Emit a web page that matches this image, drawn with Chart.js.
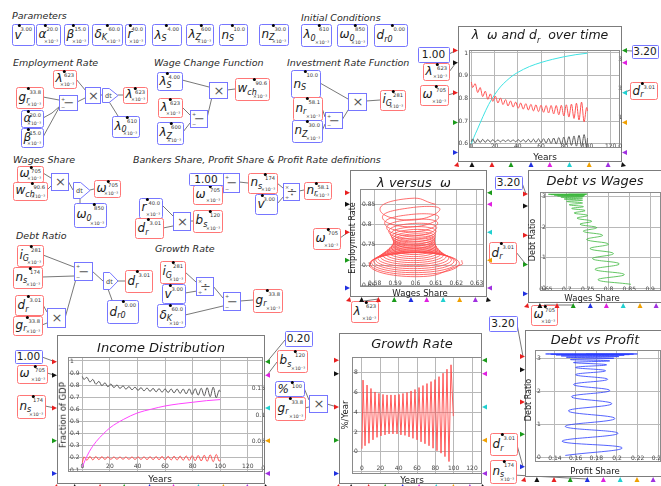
<!DOCTYPE html>
<html><head><meta charset="utf-8">
<script src="https://cdn.jsdelivr.net/npm/chart.js@4.4.1/dist/chart.umd.min.js"></script>
<style>
html,body{margin:0;padding:0;background:#fff;}
body{width:661px;height:486px;overflow:hidden;position:relative;font-family:'DejaVu Sans',sans-serif;}
svg{position:absolute;left:0;top:0;font-family:'DejaVu Sans',sans-serif;}
.panel{position:absolute;border:1px solid #7c7c7c;background:#fff;box-sizing:border-box;}
.lbl{position:absolute;white-space:nowrap;transform:translate(-50%,-50%);line-height:1;color:#1a1a1a;}
.rot{transform:translate(-50%,-50%) rotate(-90deg);}
canvas{position:absolute;}
</style></head><body>
<svg id="base" width="661" height="486"></svg>
<script>
// ================= DATA =================
const turnT = [0,1.1,3.3,5.5,7.6,9.8,12.0,14.2,16.4,18.5,20.7,22.9,25.1,27.3,29.5,31.6,33.8,36.0,38.2,40.4,42.5,44.7,46.9,49.1,51.3,53.5,55.6,57.8,60.0,62.2,64.4,66.5,68.7,70.9,73.1,75.3,77.5,79.6,81.8,84.0,86.2,88.4,90.5,92.7,94.9,97.1,99.3,100];
const omegaV = [0.872,0.848,0.865,0.826,0.848,0.808,0.832,0.796,0.820,0.787,0.810,0.780,0.802,0.773,0.795,0.767,0.789,0.762,0.784,0.757,0.780,0.753,0.777,0.749,0.774,0.745,0.772,0.742,0.770,0.739,0.769,0.736,0.769,0.732,0.769,0.728,0.770,0.723,0.772,0.718,0.775,0.712,0.779,0.705,0.784,0.697,0.760,0.745];
const lambdaV = [0.610,0.622,0.604,0.621,0.606,0.620,0.607,0.619,0.608,0.619,0.609,0.618,0.609,0.618,0.610,0.618,0.610,0.618,0.609,0.619,0.609,0.619,0.608,0.620,0.607,0.621,0.606,0.622,0.605,0.623,0.604,0.624,0.602,0.626,0.600,0.628,0.598,0.630,0.596,0.632,0.593,0.635,0.590,0.638,0.587,0.641,0.585,0.625];
const nsV = [0.160,0.208,0.180,0.212,0.183,0.211,0.185,0.210,0.186,0.209,0.187,0.208,0.187,0.208,0.187,0.208,0.187,0.208,0.186,0.209,0.186,0.209,0.185,0.210,0.185,0.211,0.184,0.212,0.183,0.213,0.182,0.214,0.181,0.215,0.180,0.216,0.178,0.218,0.176,0.220,0.174,0.222,0.171,0.225,0.168,0.228,0.172,0.185];
const drT = [0,2,5,10,15,20,25,30,35,40,50,60,70,80,90,100];
const drV = [0.10,0.30,0.57,1.03,1.45,1.78,2.05,2.25,2.42,2.55,2.75,2.89,3.00,3.09,3.16,3.21];
const bsT = [0,2,5,10,15,20,30,40,50,60,70,80,90,100];
const bsV = [0.003,0.015,0.031,0.050,0.064,0.076,0.092,0.104,0.111,0.117,0.121,0.124,0.127,0.129];
const growthT = [0,1.1,3.3,5.5,7.6,9.8,12.0,14.2,16.4,18.5,20.7,22.9,25.1,27.3,29.5,31.6,33.8,36.0,38.2,40.4,42.5,44.7,46.9,49.1,51.3,53.5,55.6,57.8,60.0,62.2,64.4,66.5,68.7,70.9,73.1,75.3,77.5,79.6,81.8,84.0,86.2,88.4,90.5,92.7,94.9,97.1,99.6];
const growthV = [0.3,7.25,0.6,6.75,0.85,6.4,1.2,6.05,1.45,5.9,1.6,5.8,1.7,5.75,1.8,5.75,1.8,5.75,1.8,5.8,1.7,5.9,1.65,6.0,1.5,6.15,1.35,6.3,1.2,6.5,1.0,6.7,0.8,6.9,0.6,7.1,0.35,7.3,0.1,7.6,-0.15,7.95,-0.5,8.35,-1.0,8.8,3.6];
const lwStart = [0.610,0.850];
const lwEnd = [0.6227,0.712];
const ringL = [.5826,.5838,.5849,.5859,.5869,.5877,.5883,.5888,.5892,.5892,.5888,.5882,.5872,.5862,.5851,.5839,.5828,.5816,.5805,.5795,.5785,.5777,.5774];
const ringR = [.6120,.6114,.6109,.6104,.6101,.6097,.6096,.6094,.6094,.6096,.6099,.6104,.6110,.6119,.6128,.6138,.6150,.6163,.6176,.6189,.6202,.6215,.6226];
const ringT = [.8648,.8417,.8251,.8127,.8028,.7946,.7880,.7822,.7772,.7723,.7673,.7624,.7574,.7524,.7483,.7442,.7409,.7376,.7351,.7334,.7318,.7310,.7310];
const ringB = [.8111,.7946,.7822,.7723,.7640,.7574,.7516,.7467,.7417,.7367,.7310,.7260,.7210,.7161,.7111,.7062,.7012,.6963,.6913,.6863,.6814,.6764,.6715];
const ringCx = [.5973,.5976,.5979,.5982,.5985,.5987,.5990,.5991,.5993,.5994,.5994,.5993,.5991,.5991,.5990,.5989,.5989,.5990,.5991,.5992,.5994,.5996,.6000];
const ringCy = [.8380,.8182,.8037,.7925,.7834,.7760,.7698,.7645,.7595,.7545,.7492,.7442,.7392,.7343,.7297,.7252,.7211,.7170,.7132,.7099,.7066,.7037,.7013];
const dwX = [0.854,0.775,0.838,0.768,0.826,0.762,0.812,0.756,0.800,0.748,0.786,0.740,0.772,0.732,0.760,0.725,0.750,0.718,0.744,0.712,0.740,0.706,0.738,0.700,0.738,0.694,0.738,0.686,0.740,0.678,0.742,0.670,0.744,0.662,0.746,0.656,0.748,0.704];
const dwY = [0.13,0.28,0.45,0.62,0.80,0.97,1.14,1.30,1.45,1.60,1.74,1.87,1.99,2.10,2.20,2.30,2.39,2.47,2.55,2.62,2.68,2.74,2.80,2.85,2.89,2.93,2.96,2.99,3.01,3.03,3.04,3.055,3.065,3.075,3.08,3.085,3.09,3.09];
const dpX = [0.150,0.205,0.147,0.201,0.150,0.198,0.153,0.195,0.156,0.193,0.158,0.191,0.160,0.189,0.160,0.190,0.158,0.193,0.155,0.197,0.151,0.202,0.146,0.207,0.141,0.212,0.136,0.216,0.131,0.219,0.170];
const dpY = [0.05,0.28,0.48,0.72,0.93,1.17,1.40,1.62,1.83,2.02,2.20,2.36,2.50,2.62,2.72,2.80,2.87,2.92,2.96,3.00,3.03,3.05,3.07,3.09,3.10,3.11,3.12,3.125,3.13,3.13,3.13];

// ================= DIAGRAM (layout only) =================
const V = [
[12,24,22,21,'b','v','','3.00',0],[36,24,24,21,'b','α','','20.0',1],[64,24,24,21,'b','β','','15.0',1],
[92,24,30,21,'b','δ','K','60.0',1],[125,24,20,21,'b','r','','40.0',1],[152,24,29,21,'b','λ','S','4.00',0],
[186,24,27,21,'b','λ','Z','600',1],[219,24,28,21,'b','n','S','10.0',0],[259,24,29,21,'b','n','Z','30.0',1],
[301,24,30,22,'b','λ','0','610',1],[337,24,30,22,'b','ω','0','850',1],[374,24,33,22,'b','d','r0','0.00',0],
[16,87,27,21,'r','g','r','33.8',1],[21,110,22,17,'b','α','','20.0',1],[21,128,22,19,'b','β','','15.0',1],
[53,70,23,18,'r','λ','','623',1],[123,87,24,16,'r','λ','','623',1],[112,116,27,21,'b','λ','0','610',1],
[157,72,25,18,'b','λ','S','4.00',0],[158,98,24,19,'r','λ','','623',1],[157,122,26,22,'b','λ','Z','600',1],
[235,78,34,22,'r','w','ch','90.6',1],
[291,70,29,27,'b','n','S','10.0',0],[293,97,29,23,'r','n','r','58.1',1],[292,120,30,22,'b','n','Z','30.0',1],
[380,90,25,20,'r','i','G','281',1],
[423,63,26,17,'r','λ','','623',1],[420,85,28,20,'r','ω','','705',1],[630,82,27,17,'r','d','r','3.01',0],
[17,166,26,16,'r','ω','','705',1],[13,182,34,18,'r','w','ch','90.6',1],[94,180,26,17,'r','ω','','705',1],
[74,203,32,24,'b','ω','0','850',1],
[193,185,29,19,'r','ω','','705',1],[248,173,29,20,'r','n','s','174',1],[255,194,22,20,'b','v','','3.00',0],
[304,182,27,17,'r','n','r','58.1',1],[139,198,23,20,'b','r','','40.0',1],[135,218,28,20,'r','d','r','3.01',0],
[193,210,29,22,'r','b','s','120',1],[313,228,27,21,'r','ω','','705',1],
[17,245,26,21,'r','i','G','281',1],[13,267,29,21,'r','n','s','174',1],[125,270,27,22,'r','d','r','3.01',0],
[107,300,31,23,'b','d','r0','0.00',0],[15,295,28,20,'r','d','r','3.01',0],[13,316,29,19,'r','g','r','33.8',1],
[160,261,25,22,'r','i','G','281',1],[162,284,23,19,'b','v','','3.00',0],[157,304,28,23,'b','δ','K','60.0',1],
[253,289,29,23,'r','g','r','33.8',1],
[17,365,30,18,'r','ω','','705',1],[17,395,28,23,'r','n','s','174',1],[277,350,30,22,'r','b','s','120',1],
[275,381,29,15,'b','%','','100',0],[275,397,30,23,'r','g','r','33.8',1],
[489,242,27,21,'r','d','r','3.01',0],[351,301,27,21,'r','λ','','623',1],[531,305,26,20,'r','ω','','705',1],
[490,433,27,22,'r','d','r','3.01',0],[490,460,26,23,'r','n','s','174',1]
];
const CONSTS = [[418,47,31,15,'1.00'],[632,45,26,13,'3.20'],[189,173,34,12,'1.00'],[15,350,27,13,'1.00'],[285,331,27,15,'0.20'],[495,176,27,13,'3.20'],[489,316,28,15,'3.20']];
const OPS = [[59,95,18,15,'-'],[85,87,15,16,'x'],[190,110,17,17,'-'],[209,82,18,16,'x'],[325,112,17,16,'-'],[348,93,18,17,'x'],
[51,173,17,17,'x'],[223,173,16,19,'-'],[283,183,16,17,'/'],[173,212,17,18,'x'],[74,262,18,18,'-'],[47,308,18,19,'x'],
[196,277,17,18,'/'],[223,292,17,18,'-'],[309,395,18,17,'x']];
const INTS = [[102,88,16,15],[73,182,17,17],[103,272,15,18]];
const SEC = [['Parameters',12,19],['Initial Conditions',301,21],['Employment Rate',13,66],['Wage Change Function',154,66],['Investment Rate Function',287,66],['Wages Share',13,163],['Bankers Share, Profit Share &amp; Profit Rate definitions',133,163],['Debt Ratio',16,239],['Growth Rate',155,252]];

const PA={x:458,y:26,w:164,h:136}, PB={x:350,y:170,w:137,h:127}, PC={x:528,y:170,w:140,h:133},
      PD={x:525,y:330,w:140,h:147}, PE={x:57,y:335,w:208,h:149}, PG={x:339,y:333,w:143,h:151};
const PFR=[0.18,0.27,0.49,0.71,0.93], BFR=[0.085,0.207,0.323,0.445,0.56,0.68,0.80,0.915];
function Lp(p,i){return [p.x-2,p.y+PFR[i]*p.h];}
function Rp(p,i){return [p.x+p.w+2,p.y+PFR[i]*p.h];}
function Bp(p,i){return [p.x+BFR[i]*p.w,p.y+p.h+2];}

const WIRES = [
[[43,97],[59,100]],[[43,118],[52,113],[60,106]],[[43,137],[60,106]],[[77,102],[85,98]],[[76,79],[86,91]],[[100,95],[102,95]],[[118,95],[123,95]],[[118,116],[108,100]],
[[182,80],[209,87]],[[182,107],[190,115]],[[183,132],[190,123]],[[207,118],[212,97]],[[227,90],[235,89]],
[[320,83],[348,99]],[[322,108],[325,117]],[[322,131],[325,124]],[[342,120],[350,107]],[[366,101],[380,100]],
[[43,173],[51,178]],[[47,190],[51,186]],[[68,181],[73,190]],[[90,190],[94,189]],[[80,203],[80,197]],
[[223,179],[225,178]],[[222,195],[225,188]],[[239,182],[248,183]],[[277,183],[283,188]],[[277,204],[284,196]],[[299,191],[304,190]],[[162,205],[173,216]],[[163,228],[173,226]],[[190,221],[193,221]],
[[43,255],[74,267]],[[42,277],[74,276]],[[43,305],[47,312]],[[42,325],[47,323]],[[65,318],[76,279]],[[92,271],[103,281]],[[118,281],[125,281]],[[112,300],[108,289]],
[[185,272],[196,282]],[[185,293],[197,291]],[[213,286],[223,298]],[[185,315],[223,306]],[[240,301],[253,300]],
[[304,388],[309,400]],[[305,408],[309,407]],
[[449,54],Lp(PA,0)],[[449,72],Lp(PA,1)],[[448,95],Lp(PA,2)],[[632,51],Rp(PA,0)],[[630,90],Rp(PA,2)],
[[340,238],Lp(PB,2)],[[364,301],Bp(PB,1)],
[[522,183],Lp(PC,0)],[[516,252],Lp(PC,3)],[[544,305],Bp(PC,2)],
[[517,324],Lp(PD,0)],[[517,445],Lp(PD,4)],[[513,475],Bp(PD,3)],
[[42,357],Lp(PE,0)],[[47,373],Lp(PE,1)],[[45,406],Lp(PE,2)],[[285,340],Rp(PE,0)],[[277,362],Rp(PE,1)],
[[327,404],Lp(PG,2)]
];

let svgStr='';
WIRES.forEach(w=>{svgStr+=`<polyline points="${w.map(p=>p.join(',')).join(' ')}" fill="none" stroke="#555" stroke-width="0.8"/>`;});
V.forEach(b=>{
  const [x,y,w,h,c,n,sub,v,m]=b, col=c==='r'?'#ff7676':'#7676ff';
  svgStr+=`<rect x="${x+.5}" y="${y+.5}" width="${w}" height="${h}" rx="2" fill="#fff" stroke="${col}"/>`;
  const ny=y+h*0.5+(m?3:4);
  svgStr+=`<text x="${x+2.5}" y="${ny}" font-size="12" font-style="italic" fill="#1a1a1a">${n}${sub?`<tspan font-size="8" dy="2.5">${sub}</tspan>`:''}</text>`;
  svgStr+=`<text x="${x+w-2}" y="${y+7}" font-size="5.2" text-anchor="end" fill="#333">${v}</text>`;
  if(m) svgStr+=`<text x="${x+w-2}" y="${y+h-2.5}" font-size="4.6" text-anchor="end" fill="#333">×10⁻³</text>`;
  svgStr+=`<circle cx="${x+w-3-v.length*2.9}" cy="${y+1.5}" r="1.5" fill="#000"/>`;
});
CONSTS.forEach(([x,y,w,h,tx])=>{
  svgStr+=`<rect x="${x+.5}" y="${y+.5}" width="${w}" height="${h}" rx="1" fill="#fff" stroke="#7676ff"/>`;
  svgStr+=`<text x="${x+w/2}" y="${y+h/2+3.8}" font-size="10.5" text-anchor="middle" fill="#1a1a1a">${tx}</text>`;
});
OPS.forEach(([x,y,w,h,o])=>{
  svgStr+=`<rect x="${x+.5}" y="${y+.5}" width="${w}" height="${h}" fill="#fff" stroke="#7676ff"/>`;
  const sym=o==='x'?'×':o==='-'?'−':'÷';
  svgStr+=`<text x="${x+w/2+1}" y="${y+h/2+4.5}" font-size="13" text-anchor="middle" fill="#555">${sym}</text>`;
  if(o==='-'||o==='/'){svgStr+=`<text x="${x+2}" y="${y+5.5}" font-size="5" fill="#555">${o==='-'?'+':'×'}</text><text x="${x+2}" y="${y+h-1.5}" font-size="5" fill="#555">${o==='-'?'−':'÷'}</text>`;}
});
INTS.forEach(([x,y,w,h])=>{
  svgStr+=`<polygon points="${x+.5},${y+.5} ${x+w*0.45},${y+.5} ${x+w},${y+h/2} ${x+w*0.45},${y+h-.5} ${x+.5},${y+h-.5}" fill="#fff" stroke="#7676ff"/>`;
  svgStr+=`<text x="${x+3}" y="${y+h/2+2.5}" font-size="6.5" fill="#444">dt</text>`;
});
SEC.forEach(([tx,x,y])=>{svgStr+=`<text x="${x}" y="${y}" font-size="9.5" font-style="italic" fill="#2a2a2a">${tx}</text>`;});
document.getElementById('base').innerHTML=svgStr;

// ================= PANELS & CHARTS =================
function panel(p){const d=document.createElement('div');d.className='panel';Object.assign(d.style,{left:p.x+'px',top:p.y+'px',width:p.w+'px',height:p.h+'px'});document.body.appendChild(d);}
function lbl(html,x,y,size,italic,rot){const d=document.createElement('div');d.className='lbl'+(rot?' rot':'');d.style.left=x+'px';d.style.top=y+'px';d.style.fontSize=size+'px';if(italic)d.style.fontStyle='italic';d.innerHTML=html;document.body.appendChild(d);}
[PA,PB,PC,PD,PE,PG].forEach(panel);

const TF={family:'DejaVu Sans',size:6};
const fmt=v=>String(parseFloat(Number(v).toFixed(4)));
function fitW(w){return sc=>{sc.width=w;sc.paddingTop=0;sc.paddingBottom=0;sc.paddingLeft=0;sc.paddingRight=0;};}
function fitH(h){return sc=>{sc.height=h;sc.paddingTop=0;sc.paddingBottom=0;sc.paddingLeft=0;sc.paddingRight=0;};}
function xs(min,max,step,pad){return {type:'linear',position:'bottom',min,max,
  ticks:{stepSize:step,includeBounds:false,autoSkip:false,maxRotation:0,mirror:true,font:TF,color:'#444',padding:pad,callback:fmt},
  grid:{color:'#b8b8b8',lineWidth:1,drawTicks:false},border:{display:false},afterFit:fitH(0)};}
function ys(min,max,step,pos,mirror,w,grid,cb){return {type:'linear',position:pos,min,max,
  ticks:{stepSize:step,includeBounds:false,autoSkip:false,mirror,font:TF,color:'#444',padding:mirror?2:1,callback:cb||fmt},
  grid:{display:grid,color:'#b8b8b8',lineWidth:1,drawTicks:false},border:{display:false},afterFit:fitW(w)};}
function series(xa,ya,col,axis,extra){return Object.assign({data:xa.map((x,i)=>({x,y:ya[i]})),showLine:true,pointRadius:0,borderWidth:1,borderColor:col,fill:false,yAxisID:axis||'y'},extra||{});}
const frame={id:'frame',beforeDatasetsDraw(c){const a=c.chartArea,x=c.ctx;x.save();x.strokeStyle='#8a8a8a';x.lineWidth=1;x.strokeRect(Math.round(a.left)+.5,Math.round(a.top)+.5,Math.round(a.right-a.left)-1,Math.round(a.bottom-a.top)-1);x.restore();}};
function makeChart(o){
  const P=8,W=o.r-o.l,H=o.b-o.t;
  const cv=document.createElement('canvas');const cw=W+o.lw+o.rw+2*P,ch=H+o.bh+2*P;
  cv.width=cw;cv.height=ch;cv.style.left=(o.l-o.lw-P)+'px';cv.style.top=(o.t-P)+'px';cv.style.width=cw+'px';cv.style.height=ch+'px';
  document.body.appendChild(cv);
  new Chart(cv,{type:'scatter',data:{datasets:o.datasets},options:{responsive:false,animation:false,events:[],
    layout:{padding:P},plugins:{legend:{display:false},tooltip:{enabled:false}},scales:o.scales},plugins:[frame]});
}
const mono={cubicInterpolationMode:'monotone'};

makeChart({l:469,t:50,r:620,b:148,lw:11,rw:0,bh:0,
  datasets:[series(turnT,lambdaV,'#5a5a5a','y',mono),series(turnT,omegaV,'#ff5252','y',mono),series(drT,drV,'#3fe3e3','y2',mono)],
  scales:{x:xs(-2,128,20,-2.3),y:ys(0.582,1.013,0.1,'left',false,11,true),y2:ys(-0.05,3.32,1,'right',true,0,false)}});

const lwPts=[{x:lwStart[0],y:lwStart[1]}];
for(let k=0;k<ringT.length;k++){lwPts.push({x:ringCx[k],y:ringT[k]},{x:ringL[k],y:ringCy[k]},{x:ringCx[k],y:ringB[k]},{x:ringR[k],y:ringCy[k]});}
lwPts.push({x:lwEnd[0],y:lwEnd[1]});
makeChart({l:360,t:189,r:484,b:287,lw:0,rw:0,bh:0,
  datasets:[{data:lwPts,showLine:true,pointRadius:0,borderWidth:0.8,borderColor:'#ff4a4a',tension:0.55,yAxisID:'y'}],
  scales:{x:xs(0.5728,0.6336,0.01,0.1),y:ys(0.646,0.888,0.05,'left',true,0,true)}});

makeChart({l:540,t:192,r:661,b:291,lw:0,rw:0,bh:0,
  datasets:[series(dwX,dwY,'#3cb83c','y',{tension:0.45,borderWidth:0.8})],
  scales:{x:xs(0.636,0.926,0.05,-1.6),y:ys(-0.09,3.16,1,'left',true,0,true)}});

makeChart({l:535,t:350,r:661,b:462,lw:0,rw:0,bh:0,
  datasets:[series(dpX,dpY,'#2a3cff','y',{tension:0.45,borderWidth:0.8})],
  scales:{x:xs(0.1207,0.2426,0.02,0.1),y:ys(-0.15,3.25,1,'left',true,0,true)}});

makeChart({l:68,t:357,r:263,b:472,lw:0,rw:0,bh:0,
  datasets:[series(turnT,omegaV,'#555','y',mono),series(bsT,bsV,'#ff44ff','y2',mono),series(turnT,nsV,'#ff5252','y',mono)],
  scales:{x:xs(-10.4,131,20,1.7),y:ys(0.083,1.033,0.1,'left',true,0,true),
          y2:ys(-0.007,0.209,0.05,'right',true,0,false,v=>v>0.16?'':fmt(v))}});

makeChart({l:352,t:357,r:482,b:474,lw:0,rw:0,bh:0,
  datasets:[series(growthT,growthV,'#ff4a4a','y',{borderWidth:0.9})],
  scales:{x:xs(-10.9,130.9,20,2.1),y:ys(-2.26,9.59,2,'left',true,0,true,v=>v<0?'':fmt(v))}});

lbl('λ&nbsp;&nbsp;ω and d<sub style="font-size:8px">r</sub>&nbsp;&nbsp;over time',540,37,12.5,true);
lbl('Years',545,157,9);
lbl('λ versus&nbsp;&nbsp;ω',414,182,13,true);
lbl('Employment Rate',353,238,8,false,true);
lbl('Wages Share',420,293,8.5);
lbl('Debt vs Wages',595,180,13,true);
lbl('Debt Ratio',533,240,8,false,true);
lbl('Wages Share',592,298,8.5);
lbl('Debt vs Profit',595,339,13,true);
lbl('Debt Ratio',529,400,8,false,true);
lbl('Profit Share',595,471,8.5);
lbl('Income Distribution',161,347,13,true);
lbl('Fraction of GDP',63,415,8.5,false,true);
lbl('Years',160,479,9);
lbl('Growth Rate',412,343,13,true);
lbl('%/Year',345,415,8.5,false,true);
lbl('Years',412,480,9);

const LC=['#e82020','#111','#e82020','#1a9a1a','#2030e0'],RC=['#1a9a1a','#e020e0','#20d0d0','#f0a000','#a030e0'],BC=['#111','#e82020','#1a9a1a','#2030e0','#e020e0','#20d0d0','#f0a000','#a030e0'];
let portStr='';
[PA,PB,PC,PD,PE,PG].forEach(p=>{
  PFR.forEach((f,i)=>{const y=p.y+f*p.h,x=p.x,xr=p.x+p.w;
    portStr+=`<polygon points="${x-5},${y-2.5} ${x},${y} ${x-5},${y+2.5}" fill="${LC[i]}"/>`;
    portStr+=`<polygon points="${xr+5},${y-2.5} ${xr},${y} ${xr+5},${y+2.5}" fill="${RC[i]}"/>`;});
  BFR.forEach((f,i)=>{const x=p.x+f*p.w,y=p.y+p.h;portStr+=`<polygon points="${x-2.5},${y+5} ${x},${y} ${x+2.5},${y+5}" fill="${BC[i]}"/>`;});
  portStr+=`<polygon points="${p.x-4},${p.y+p.h+4} ${p.x},${p.y+p.h} ${p.x+1},${p.y+p.h+5}" fill="#e82020"/>`;
  portStr+=`<polygon points="${p.x+p.w+4},${p.y+p.h+4} ${p.x+p.w},${p.y+p.h} ${p.x+p.w-1},${p.y+p.h+5}" fill="#111"/>`;
});
const portSvg=document.createElementNS('http://www.w3.org/2000/svg','svg');portSvg.setAttribute('width','661');portSvg.setAttribute('height','486');portSvg.innerHTML=portStr;document.body.appendChild(portSvg);
</script>
</body></html>
